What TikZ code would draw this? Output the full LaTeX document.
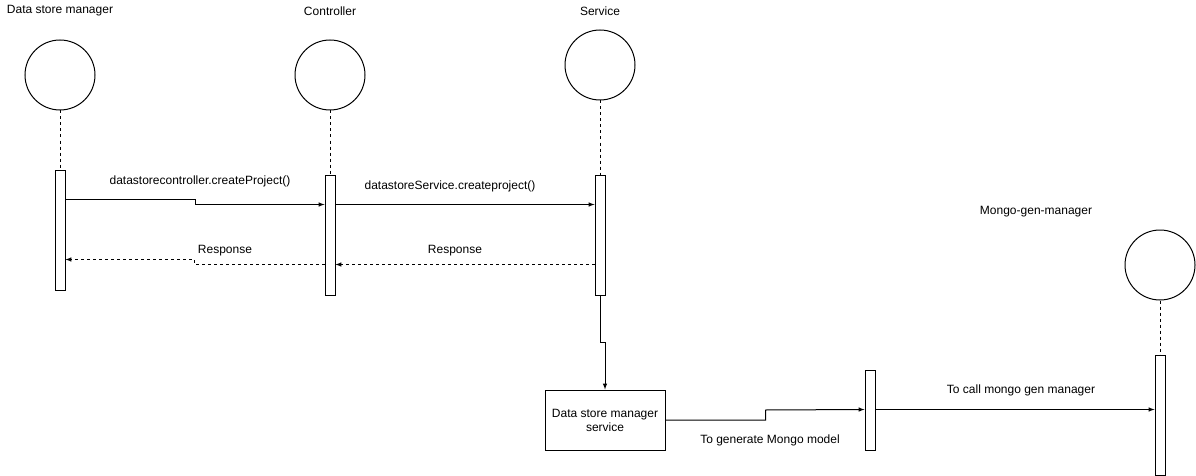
\documentclass[tikz,border=0pt]{standalone}
\usepackage{fontspec}
\setmainfont{Liberation Sans}
\usetikzlibrary{shapes, shapes.geometric, arrows, positioning}

\begin{document}
\begin{tikzpicture}[
  x=1pt, y=-1pt, line width=1pt,
  font=\fontsize{12}{14}\selectfont,
  actor/.style={circle, draw, minimum size=70pt, inner sep=0pt},
  bar/.style={rectangle, draw, fill=white, minimum width=10pt, minimum height=120pt, inner sep=0pt},
  life/.style={dashed},
  msg/.style={-latex},
  reply/.style={-latex, dashed}]

  \useasboundingbox (0,0) rectangle (1196,476);

  % lifelines heads
  \node[actor] (dsm) at (60,75) {};
  \node[actor] (ctrl) at (330,75) {};
  \node[actor] (srv) at (600,65) {};
  \node[actor] (mgm) at (1160,265) {};
  \node (dsmlbl) at (60,11) {Data store manager};
  \node (ctrllbl) at (330,11) {Controller};
  \node (srvlbl) at (600,11) {Service};
  \node (mgmlbl) at (1036,212) {Mongo-gen-manager};

  % activation bars
  \node[bar] (dsmbar) at (60,230) {};
  \node[bar] (ctrlbar) at (330,235) {};
  \node[bar] (srvbar) at (600,235) {};
  \node[bar, minimum height=80pt] (midbar) at (870,410) {};
  \node[bar] (mgmbar) at (1160,415) {};
  \node[draw, minimum width=120pt, minimum height=60pt, align=center, inner sep=0pt] (dsms) at (605,420) {Data store manager\\service};

  \draw[life] (dsm) -- (dsmbar);
  \draw[life] (ctrl) -- (ctrlbar);
  \draw[life] (srv) -- (srvbar);
  \draw[life] (mgm) -- (mgmbar);

  % messages
  \draw[msg] ([yshift=-30]dsmbar.north east) -- ++(130,0) -- ++(0,5) -- ([yshift=-30]ctrlbar.north west);
  \node (m1) at (200,181) {datastorecontroller.createProject()};
  \draw[msg] ([yshift=-30]ctrlbar.north east) -- ([yshift=-30]srvbar.north west);
  \node (m2) at (450,186) {datastoreService.createproject()};
  \draw[reply] ([yshift=-90]ctrlbar.north west) -- ++(-130,0) -- ++(0,-5) -- ([yshift=-90]dsmbar.north east);
  \node (r1) at (225,251) {Response};
  \draw[reply] ([yshift=-90]srvbar.north west) -- ([yshift=-90]ctrlbar.north east);
  \node (r2) at (455,251) {Response};
  \draw[msg] (srvbar.south) -- ++(0,47) -- ++(5,0) -- (dsms.north);
  \draw[msg] (dsms.east) -- ++(100,0) -- ++(0,-10) -- ([yshift=-40]midbar.north west);
  \node (m3) at (770,440) {To generate Mongo model};
  \draw[msg] ([yshift=-40]midbar.north east) -- ([yshift=-55]mgmbar.north west);
  \node (m4) at (1021,390) {To call mongo gen manager};
\end{tikzpicture}
\end{document}
